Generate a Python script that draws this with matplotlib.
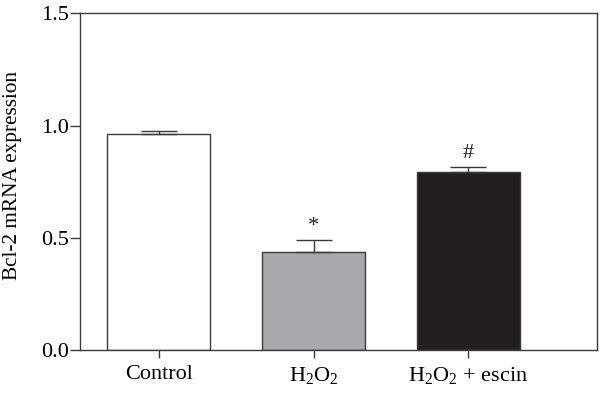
import matplotlib
matplotlib.use("Agg")
import matplotlib.pyplot as plt
import numpy as np

plt.rcParams['font.family'] = ['Liberation Serif', 'DejaVu Serif']
plt.rcParams['mathtext.fontset'] = 'custom'
plt.rcParams['mathtext.rm'] = 'Liberation Serif'

groups = ["Control", r"$\mathregular{H_2O_2}$", r"$\mathregular{H_2O_2}$ + escin"]
values = [0.964, 0.437, 0.791]
errors = [0.012, 0.052, 0.023]
marks = ["", "*", "#"]
colors = ["white", "#a7a9ac", "#231f20"]

fig = plt.figure(figsize=(6, 3.96), dpi=100)
ax = fig.add_axes([0.1333, 0.1162, 0.8617, 0.8502])

x = np.arange(len(groups))
ax.bar(x, values, width=0.667, color=colors, edgecolor="#3a3a3a", linewidth=1.0, zorder=2)
ax.errorbar(x, values, yerr=[np.zeros(len(errors)), errors], fmt="none",
            ecolor="#3a3a3a", elinewidth=1.0, capsize=13, capthick=1.0, zorder=3)

for i in range(len(x)):
    if marks[i]:
        ax.text(x[i], values[i] + errors[i] + 0.018, marks[i], ha="center", va="bottom",
                fontsize=16, color="#231f20")

ax.set_xlim(-0.508, 2.83)
ax.set_ylim(0, 1.5)
ax.set_yticks([0.0, 0.5, 1.0, 1.5])
ax.set_yticklabels(["0.0", "0.5", "1.0", "1.5"])
ax.set_xticks(x)
ax.set_xticklabels(groups)
ax.tick_params(axis="y", length=7, width=1.0, labelsize=16, color="#3a3a3a", pad=1)
ax.tick_params(axis="x", length=6, width=1.0, labelsize=16, color="#3a3a3a", pad=5)
for s in ax.spines.values():
    s.set_color("#3a3a3a")
    s.set_linewidth(1.0)
ax.set_ylabel("Bcl-2 mRNA expression", fontsize=15.3)
ax.yaxis.set_label_coords(-0.112, 0.518)

fig.savefig("out.png", dpi=100)
